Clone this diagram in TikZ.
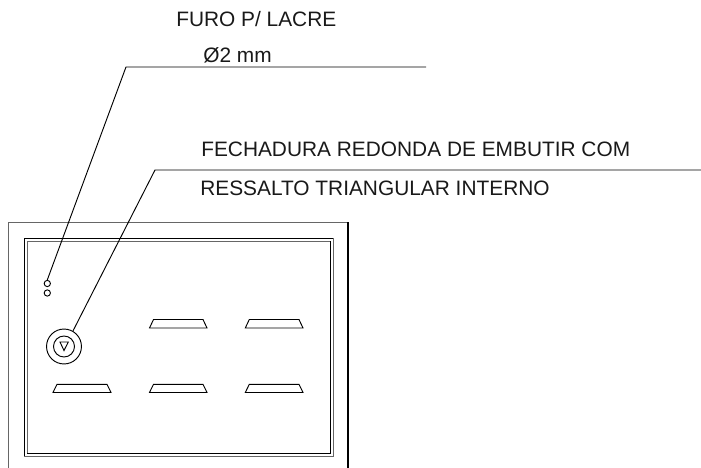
\documentclass[tikz,border=0pt]{standalone}
\usepackage{fontspec}
\setmainfont{Liberation Sans}
\tikzset{
  px/.style={x=0.75pt,y=-0.75pt},
  ln/.style={line width=0.7pt,black},
  gl/.style={line width=0.75pt,black!60},
  lbl/.style={anchor=base west,inner sep=0pt,font=\fontsize{15.65pt}{18pt}\selectfont,text=black!90},
  slot/.style={ln,line join=miter}
}
\begin{document}
\begin{tikzpicture}[px]
\useasboundingbox (0,0) rectangle (701,468);
% outer frame
\draw[gl] (8,468) -- (8,222) -- (348,222);
\draw[ln,line width=0.85pt] (348,222) -- (348,468);
% inner frames
\draw[ln] (24,456) -- (24,238) -- (333,238);
\draw[gl] (333,238) -- (333,456) -- (24,456);
\draw[gl] (27,453) -- (27,241) -- (330,241);
\draw[ln] (330,241) -- (330,453) -- (27,453);
% seal holes
\node[draw,ln,circle,minimum size=4.7pt,inner sep=0pt] (h1) at (47.3,283.5) {};
\node[draw,ln,circle,minimum size=4.7pt,inner sep=0pt] (h2) at (47.3,293) {};
% lock
\node[draw,ln,circle,minimum size=26.2pt,inner sep=0pt] (lock) at (64,346.5) {};
\draw[ln] (64,346.5) circle [radius=10.5];
\draw[ln] (60,342) -- (68.3,342) -- (64,350.5) -- cycle;
% slots
\draw[slot] (149.5,328) -- (153.5,319.5) -- (203,319.5) -- (207,328) -- cycle;
\draw[slot] (245.3,328) -- (249.3,319.5) -- (299,319.5) -- (303,328) -- cycle;
\draw[slot] (53,392.5) -- (57,384.3) -- (107,384.3) -- (111,392.5) -- cycle;
\draw[slot] (149.5,392.5) -- (153.5,384.3) -- (203,384.3) -- (207,392.5) -- cycle;
\draw[slot] (245.3,392.5) -- (249.3,384.3) -- (299,384.3) -- (303,392.5) -- cycle;
% leaders
\coordinate (k1) at (126,67);
\coordinate (e1) at (426,67);
\coordinate (k2) at (155,170);
\coordinate (e2) at (701,170);
\draw[ln] (h1.north) -- (k1) -- (e1);
\draw[ln] (lock.60) -- (k2) -- (e2);
% labels
\node[lbl] (t1) at (176,26) {FURO P/ LACRE};
\node[lbl] (t2) at (203,62.5) {Ø2 mm};
\node[lbl] (t3) at (201,156) {FECHADURA REDONDA DE EMBUTIR COM};
\node[lbl] (t4) at (200,195) {RESSALTO TRIANGULAR INTERNO};
\end{tikzpicture}
\end{document}
